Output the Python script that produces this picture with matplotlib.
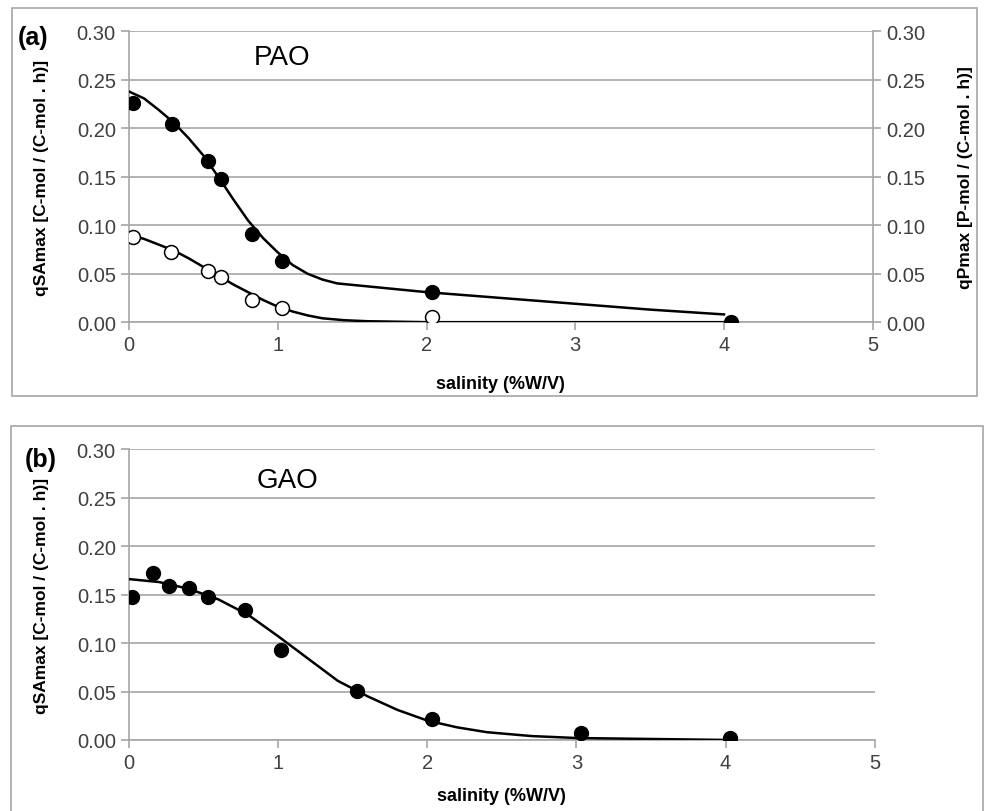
import matplotlib.pyplot as plt
from matplotlib.patches import Rectangle

# --- data ---
# (a) PAO
pao_x = [0.03, 0.29, 0.53, 0.62, 0.83, 1.03, 2.04, 4.05]
pao_qsa = [0.226, 0.205, 0.166, 0.148, 0.091, 0.063, 0.031, 0.0]
pao_open_x = [0.03, 0.28, 0.53, 0.62, 0.83, 1.03, 2.04]
pao_qp = [0.088, 0.072, 0.053, 0.047, 0.023, 0.015, 0.005]

# fitted curves
pao_fit_x = [0.0, 0.1, 0.2, 0.3, 0.4, 0.5, 0.6, 0.7, 0.8, 0.9, 1.0, 1.1, 1.2, 1.3, 1.4,
             1.6, 1.8, 2.0, 2.5, 3.0, 3.5, 4.0]
pao_fit_y = [0.238, 0.231, 0.219, 0.206, 0.190, 0.172, 0.150, 0.127, 0.105, 0.087, 0.072, 0.059,
             0.050, 0.044, 0.040, 0.037, 0.034, 0.031, 0.025, 0.019, 0.013, 0.008]
pao_qp_fit_x = [0.0, 0.1, 0.2, 0.3, 0.4, 0.5, 0.6, 0.7, 0.8, 0.9, 1.0, 1.1, 1.2, 1.3,
                1.45, 1.6, 2.0, 3.0, 4.0]
pao_qp_fit_y = [0.090, 0.086, 0.080, 0.074, 0.066, 0.057, 0.048, 0.039, 0.031, 0.023, 0.016,
                0.011, 0.007, 0.004, 0.002, 0.001, 0.0, 0.0, 0.0]

# (b) GAO
gao_x = [0.02, 0.16, 0.27, 0.40, 0.53, 0.78, 1.02, 1.53, 2.03, 3.03, 4.03]
gao_qsa = [0.148, 0.172, 0.159, 0.157, 0.148, 0.134, 0.093, 0.051, 0.022, 0.007, 0.002]
gao_fit_x = [0.0, 0.2, 0.4, 0.6, 0.8, 1.0, 1.2, 1.4, 1.6, 1.8, 2.0, 2.2, 2.4, 2.7, 3.0, 3.5, 4.0]
gao_fit_y = [0.166, 0.163, 0.156, 0.145, 0.129, 0.107, 0.084, 0.061, 0.045, 0.031, 0.020, 0.013,
             0.008, 0.004, 0.002, 0.001, 0.0]

yticks = [0.0, 0.05, 0.10, 0.15, 0.20, 0.25, 0.30]
xticks = [0, 1, 2, 3, 4, 5]

grey = '#a6a6a6'
tickcol = '#404040'
plt.rcParams['font.family'] = ['Liberation Sans', 'DejaVu Sans']

fig = plt.figure(figsize=(9.85, 8.12), dpi=100)

# panel frames
fig.patches.append(Rectangle((0.012, 0.511), 0.980, 0.478, transform=fig.transFigure,
                             fill=False, edgecolor=grey, lw=1.2))
fig.patches.append(Rectangle((0.011, -0.01), 0.987, 0.484, transform=fig.transFigure,
                             fill=False, edgecolor=grey, lw=1.2))

ax1 = fig.add_axes([0.131, 0.602, 0.755, 0.358])
ax2 = fig.add_axes([0.131, 0.0875, 0.757, 0.358])


def style(ax, xpad):
    ax.set_xlim(0, 5)
    ax.set_ylim(0, 0.30)
    ax.set_xticks(xticks)
    ax.set_yticks(yticks)
    ax.set_yticklabels(['%.2f' % v for v in yticks])
    ax.grid(axis='y', color=grey, lw=1.2)
    ax.set_axisbelow(True)
    for s in ['top', 'right']:
        ax.spines[s].set_visible(False)
    for s in ['left', 'bottom']:
        ax.spines[s].set_color(grey)
        ax.spines[s].set_linewidth(1.2)
    ax.tick_params(colors=grey, labelcolor=tickcol, labelsize=14.5, length=6, width=1.2)
    ax.set_xlabel('salinity (%W/V)', fontweight='bold', fontsize=13, labelpad=xpad)
    ax.set_ylabel('qSAmax [C-mol / (C-mol . h)]', fontweight='bold', fontsize=12.5, labelpad=20)


style(ax1, 15)
style(ax2, 11)

# panel (a)
ax1.plot(pao_fit_x, pao_fit_y, color='black', lw=1.8, zorder=3)
ax1.plot(pao_x, pao_qsa, 'o', color='black', ms=10, zorder=4)

ax1r = ax1.twinx()
ax1r.set_ylim(0, 0.30)
ax1r.set_yticks(yticks)
ax1r.set_yticklabels(['%.2f' % v for v in yticks])
for s in ['top', 'left', 'bottom']:
    ax1r.spines[s].set_visible(False)
ax1r.spines['right'].set_color(grey)
ax1r.spines['right'].set_linewidth(1.2)
ax1r.tick_params(colors=grey, labelcolor=tickcol, labelsize=14.5, length=6, width=1.2)
ax1r.set_ylabel('qPmax [P-mol / (C-mol . h)]', fontweight='bold', fontsize=12.5, labelpad=24)
ax1r.plot(pao_qp_fit_x, pao_qp_fit_y, color='black', lw=1.8, zorder=3)
ax1r.plot(pao_open_x, pao_qp, 'o', mfc='white', mec='black', mew=1.1, ms=10, zorder=4)

ax1.text(0.206, 0.912, 'PAO', transform=ax1.transAxes, fontsize=20, ha='center', va='center')
fig.text(0.034, 0.953, '(a)', fontweight='bold', fontsize=18, ha='center', va='center')

# panel (b)
ax2.plot(gao_fit_x, gao_fit_y, color='black', lw=1.8, zorder=3)
ax2.plot(gao_x, gao_qsa, 'o', color='black', ms=10, zorder=4)
ax2.text(0.212, 0.895, 'GAO', transform=ax2.transAxes, fontsize=20, ha='center', va='center')
fig.text(0.041, 0.433, '(b)', fontweight='bold', fontsize=18, ha='center', va='center')

fig.savefig('out.png', dpi=100)
